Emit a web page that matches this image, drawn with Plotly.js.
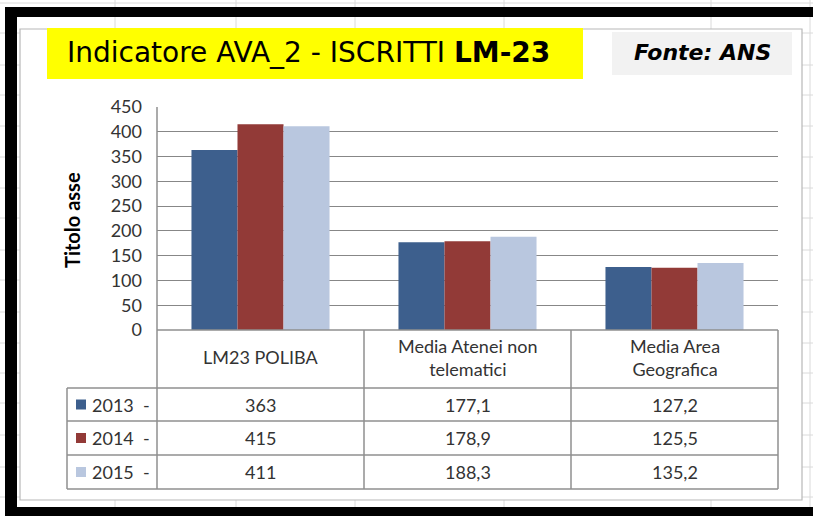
<!DOCTYPE html>
<html><head><meta charset="utf-8">
<script src="https://cdn.plot.ly/plotly-3.0.1.min.js"></script>
<style>html,body{margin:0;padding:0;background:#fff}#chart{width:813px;height:516px}</style>
</head><body><div id="chart"></div>
<script>
// ---- data ----
const categories = ["LM23 POLIBA", "Media Atenei non telematici", "Media Area Geografica"];
const categoryLabels = ["LM23 POLIBA", "Media Atenei non<br>telematici", "Media Area<br>Geografica"];
const years = ["2013", "2014", "2015"];
const values2013 = [363, 177.1, 127.2];
const values2014 = [415, 178.9, 125.5];
const values2015 = [411, 188.3, 135.2];
const yTicks = [0, 50, 100, 150, 200, 250, 300, 350, 400, 450];
const colors = ["#3d5f8d", "#923a37", "#b9c7df"];
const series = [values2013, values2014, values2015];

const W = 813, H = 516;
const px = x => x / W;
const py = y => 1 - y / H;
const fmt = v => Number.isInteger(v) ? String(v) : v.toFixed(1).replace('.', ',');

const traces = series.map((vals, i) => ({
  type: 'bar', name: years[i], x: categories, y: vals,
  marker: {color: colors[i]}, hoverinfo: 'none'
}));

const shapes = [];
const annotations = [];
const gridC = '#dadada';
// spreadsheet cell grid
[115, 236, 355, 504, 711, 810].forEach(x => shapes.push({type:'line', xref:'paper', yref:'paper', x0:px(x), x1:px(x), y0:0, y1:1, line:{color:gridC, width:1}, layer:'below'}));
[3, 33, 65, 95, 126, 157, 188, 218, 250, 280, 312, 343, 373, 403, 435, 467, 497].forEach(y => shapes.push({type:'line', xref:'paper', yref:'paper', x0:0, x1:1, y0:py(y), y1:py(y), line:{color:gridC, width:1}, layer:'below'}));
// chart frame
shapes.push({type:'rect', xref:'paper', yref:'paper', x0:px(20), x1:px(802), y0:py(500), y1:py(29), fillcolor:'#ffffff', line:{color:'#b8b8b8', width:1.2}, layer:'below'});
// black border
shapes.push({type:'rect', xref:'paper', yref:'paper', x0:px(5), x1:1, y0:py(17), y1:py(7), fillcolor:'#000', line:{width:0}, layer:'below'});
shapes.push({type:'rect', xref:'paper', yref:'paper', x0:px(5), x1:px(17), y0:py(516), y1:py(7), fillcolor:'#000', line:{width:0}, layer:'below'});
shapes.push({type:'rect', xref:'paper', yref:'paper', x0:px(5), x1:1, y0:0, y1:py(507), fillcolor:'#000', line:{width:0}, layer:'below'});
// title boxes
shapes.push({type:'rect', xref:'paper', yref:'paper', x0:px(47), x1:px(583), y0:py(79), y1:py(28), fillcolor:'#ffff00', line:{width:0}, layer:'below'});
shapes.push({type:'rect', xref:'paper', yref:'paper', x0:px(612), x1:px(792), y0:py(75), y1:py(32), fillcolor:'#f2f2f2', line:{width:0}, layer:'below'});

// data table
const tC = '#8f8f8f', tW = 1.5;
const hline = (x0, x1, y, xref) => shapes.push({type:'line', xref:xref||'paper', yref:'paper', x0:x0, x1:x1, y0:py(y), y1:py(y), line:{color:tC, width:tW}, layer:'above'});
const vline = (x, y0, y1, xref) => shapes.push({type:'line', xref:xref||'paper', yref:'paper', x0:x, x1:x, y0:py(y0), y1:py(y1), line:{color:tC, width:tW}, layer:'above'});
const rowY = [388, 421, 455, 489];
hline(px(157), px(778), 330);
rowY.forEach(y => hline(px(67), px(778), y));
vline(px(67), 388, 489);
vline(px(157), 107, 489);
vline(px(778), 330, 489);
for (let k = 0; k < categories.length - 1; k++) vline(k + 0.5, 330, 489, 'x');

const tFont = {family:'Lato, Carlito, sans-serif', size:18, color:'#333333'};
categoryLabels.forEach((lab, k) => annotations.push({xref:'x', yref:'paper', x:k, y:py(357), text:lab, showarrow:false, font:tFont, align:'center', xanchor:'center', yanchor:'middle'}));
series.forEach((vals, i) => {
  const yc = (rowY[i] + rowY[i+1]) / 2;
  vals.forEach((v, k) => annotations.push({xref:'x', yref:'paper', x:k, y:py(yc), text:fmt(v), showarrow:false, font:tFont, xanchor:'center', yanchor:'middle'}));
  shapes.push({type:'rect', xref:'paper', yref:'paper', x0:px(76), x1:px(86), y0:py(yc+5), y1:py(yc-5), fillcolor:colors[i], line:{width:0}, layer:'above'});
  annotations.push({xref:'paper', yref:'paper', x:px(90), y:py(yc), text:years[i] + '&nbsp;&nbsp;-', showarrow:false, font:tFont, xanchor:'left', yanchor:'middle'});
});

// titles
annotations.push({xref:'paper', yref:'paper', x:px(308), y:py(53), text:'Indicatore AVA_2 - ISCRITTI <b>LM-23</b>', showarrow:false, font:{family:'DejaVu Sans', size:28, color:'#000'}, xanchor:'center', yanchor:'middle'});
annotations.push({xref:'paper', yref:'paper', x:px(702), y:py(53), text:'<b><i>Fonte: ANS</i></b>', showarrow:false, font:{family:'DejaVu Sans', size:22, color:'#000'}, xanchor:'center', yanchor:'middle'});
annotations.push({xref:'paper', yref:'paper', x:px(72), y:py(220), text:'<b>Titolo asse</b>', textangle:-90, showarrow:false, font:{family:'Lato, sans-serif', size:20, color:'#000'}, xanchor:'center', yanchor:'middle'});

const layout = {
  width: W, height: H,
  margin: {l:0, r:0, t:0, b:0},
  paper_bgcolor: '#ffffff', plot_bgcolor: 'rgba(0,0,0,0)',
  showlegend: false,
  barmode: 'group', bargap: 0.333, bargroupgap: 0,
  xaxis: {domain:[px(157), px(778)], range:[-0.5, 2.5], showticklabels:false, showgrid:false, zeroline:false, ticks:'', fixedrange:true},
  yaxis: {domain:[py(330), py(107)], range:[0, 450], tickvals:yTicks, showgrid:true, gridcolor:'#878787', gridwidth:1, zeroline:false, showline:false, ticks:'', ticklabelstandoff:14, tickfont:{family:'Lato, sans-serif', size:18, color:'#333333'}, fixedrange:true},
  shapes: shapes, annotations: annotations
};
Plotly.newPlot('chart', traces, layout, {displayModeBar:false, staticPlot:true});
</script></body></html>
